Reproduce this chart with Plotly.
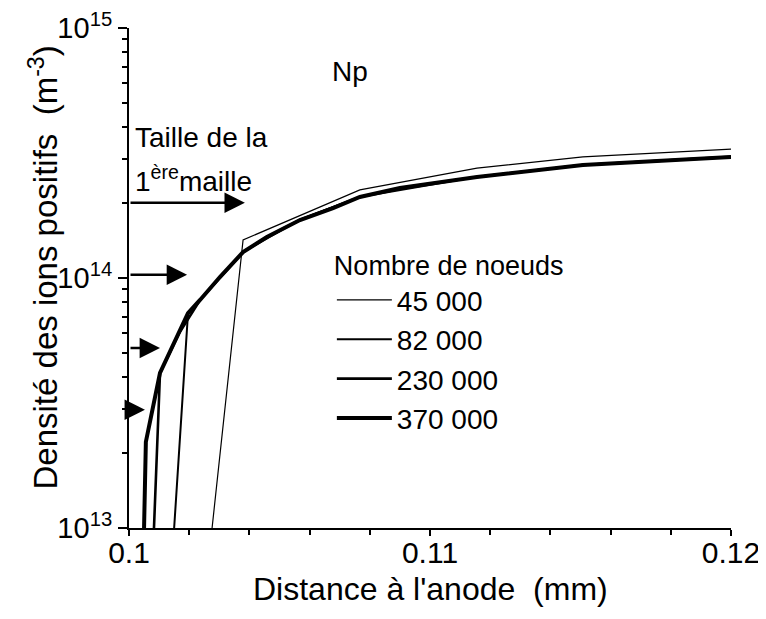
import plotly.graph_objects as go
import numpy as np

# ---------------- data ----------------
series_names = ["45 000", "82 000", "230 000", "370 000"]
series_widths = [1.2, 2.0, 2.6, 4.0]

x_45000 = [0.10276, 0.10379, 0.10767, 0.11156, 0.11508, 0.12]
y_45000 = [1.0e13, 1.42e14, 2.25e14, 2.75e14, 3.05e14, 3.28e14]

x_82000 = [0.10150, 0.10196, 0.10379, 0.10568, 0.10767, 0.11156, 0.11508, 0.12]
y_82000 = [1.0e13, 7.24e13, 1.27e14, 1.71e14, 2.11e14, 2.54e14, 2.84e14, 3.06e14]

x_230000 = [0.10083, 0.10103, 0.10169, 0.10236, 0.10379, 0.10458, 0.10568,
            0.10767, 0.10900, 0.11156, 0.11508, 0.12]
y_230000 = [1.0e13, 4.17e13, 6.08e13, 8.17e13, 1.27e14, 1.459e14, 1.706e14,
            2.109e14, 2.291e14, 2.535e14, 2.831e14, 3.048e14]

x_370000 = [0.10050, 0.10056, 0.10103, 0.10169, 0.10196, 0.10236, 0.10302, 0.10379,
            0.10458, 0.10568, 0.10678, 0.10767, 0.10900, 0.11156, 0.11508, 0.12]
y_370000 = [1.0e13, 2.21e13, 4.17e13, 6.08e13, 7.24e13, 8.17e13, 1.009e14, 1.27e14,
            1.459e14, 1.706e14, 1.905e14, 2.109e14, 2.291e14, 2.535e14, 2.831e14, 3.048e14]

# first-cell size arrows: (density level, tip position)
arrow_levels = [2.0e14, 1.03e14, 5.25e13, 2.97e13]
arrow_tips = [0.10385, 0.10193, 0.10103, 0.10053]

x_tickvals = [0.1, 0.11, 0.12]
x_ticktext = ["0.1", "0.11", "0.12"]
x_minor = [0.102, 0.104, 0.106, 0.108, 0.112, 0.114, 0.116, 0.118]
y_tickvals = [1e13, 1e14, 1e15]
y_ticktext = ["10<sup>13</sup>", "10<sup>14</sup>", "10<sup>15</sup>"]
y_minor = [m * 10.0 ** e for e in (13, 14) for m in range(2, 10)]

# ---------------- figure ----------------
FONT = "Liberation Sans, Arial, sans-serif"
fig = go.Figure()
xs = [x_45000, x_82000, x_230000, x_370000]
ys = [y_45000, y_82000, y_230000, y_370000]
for name, w, xv, yv in zip(series_names, series_widths, xs, ys):
    fig.add_trace(go.Scatter(x=xv, y=yv, mode="lines", name=name,
                             line=dict(color="black", width=w)))

for lvl, tip in zip(arrow_levels, arrow_tips):
    fig.add_annotation(x=tip, y=np.log10(lvl), ax=0.1, ay=np.log10(lvl),
                       xref="x", yref="y", axref="x", ayref="y",
                       text="", showarrow=True, arrowhead=2, arrowsize=1.7,
                       arrowwidth=2.4, arrowcolor="black", standoff=0)

fig.add_annotation(x=0.10734, y=np.log10(6.67e14), xref="x", yref="y", text="Np",
                   showarrow=False, font=dict(size=28, family=FONT, color="black"))
fig.add_annotation(x=0.10013, y=np.log10(3.66e14), xref="x", yref="y", text="Taille de la",
                   showarrow=False, xanchor="left", font=dict(size=28, family=FONT, color="black"))
fig.add_annotation(x=0.10013, y=np.log10(2.5e14), xref="x", yref="y", text="1<sup>ère</sup>maille",
                   showarrow=False, xanchor="left", font=dict(size=28, family=FONT, color="black"))
# axis titles
fig.add_annotation(x=-0.142, y=0.52, xref="paper", yref="paper",
                   xanchor="center", yanchor="middle",
                   text="Densité des ions positifs  (m<sup>-3</sup>)", textangle=-90,
                   showarrow=False, font=dict(size=33, family=FONT, color="black"))
fig.add_annotation(x=0.5, y=-0.121, xref="paper", yref="paper",
                   xanchor="center", yanchor="middle",
                   text="Distance à l'anode  (mm)",
                   showarrow=False, font=dict(size=32, family=FONT, color="black"))

fig.update_layout(
    width=758, height=611,
    margin=dict(l=121, r=35, t=20, b=91, autoexpand=False),
    paper_bgcolor="white", plot_bgcolor="white",
    font=dict(family=FONT, size=26, color="black"),
    showlegend=True,
    legend=dict(x=0.337, y=0.576, xanchor="left", yanchor="top",
                bgcolor="rgba(0,0,0,0)", borderwidth=0, itemwidth=55,
                title=dict(text="Nombre de noeuds", font=dict(size=27, family=FONT)),
                font=dict(size=28, family=FONT), tracegroupgap=0),
    xaxis=dict(range=[0.1, 0.12], showgrid=False, zeroline=False, automargin=False,
               showline=True, linecolor="black", linewidth=2,
               ticks="outside", ticklen=6, tickwidth=2, tickcolor="black",
               tickmode="array", tickvals=x_tickvals, ticktext=x_ticktext,
               tickfont=dict(size=30, family=FONT), ticklabeloverflow="allow",
               ticklabelstandoff=-9,
               minor=dict(tickmode="array", tickvals=x_minor, ticks="outside",
                          ticklen=5, tickwidth=1.5, tickcolor="black", showgrid=False)),
    yaxis=dict(type="log", range=[13, 15], showgrid=False, zeroline=False, automargin=False,
               showline=True, linecolor="black", linewidth=2,
               ticks="outside", ticklen=9, tickwidth=2, tickcolor="black",
               tickmode="array", tickvals=y_tickvals, ticktext=y_ticktext,
               tickfont=dict(size=29, family=FONT), ticklabeloverflow="allow",
               minor=dict(tickmode="array", tickvals=y_minor, ticks="outside",
                          ticklen=5, tickwidth=1.5, tickcolor="black", showgrid=False)),
)

fig.write_html("out.html")
